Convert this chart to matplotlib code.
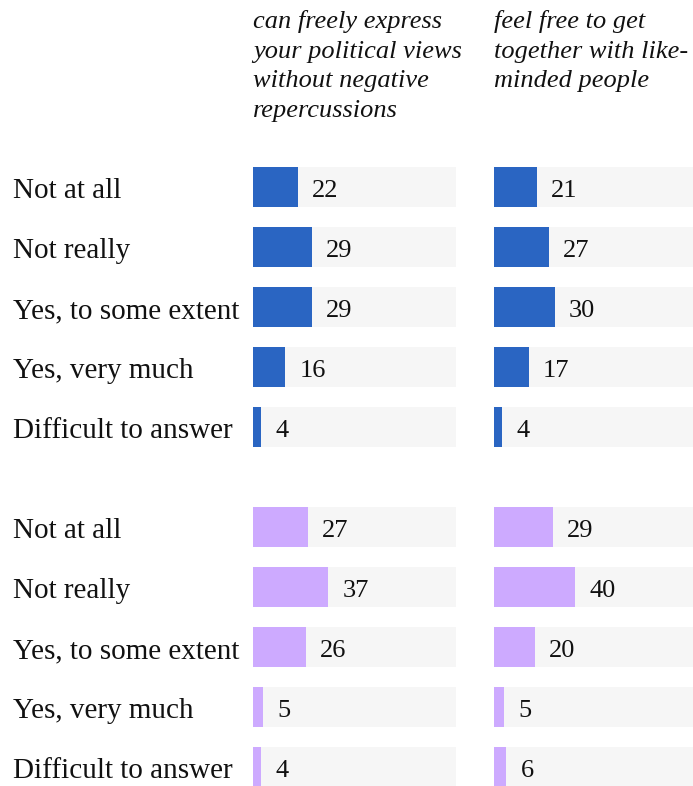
import matplotlib.pyplot as plt
from matplotlib import transforms

categories = ['Not at all', 'Not really', 'Yes, to some extent', 'Yes, very much', 'Difficult to answer']
headers = ['can freely express\nyour political views\nwithout negative\nrepercussions',
           'feel free to get\ntogether with like-\nminded people']

# two groups of respondents, one column per question
express_a = [22, 29, 29, 16, 4]
gather_a = [21, 27, 30, 17, 4]
express_b = [27, 37, 26, 5, 4]
gather_b = [29, 40, 20, 5, 6]

blue = '#2a65c2'
purple = '#cdaaff'
track = '#f6f6f6'

W, H = 693, 786
fig = plt.figure(figsize=(W / 100, H / 100), dpi=100)
plt.rcParams['font.family'] = ['Liberation Serif', 'DejaVu Serif']

# row positions: 60px per row, 100px between the two groups
rows_a = [i for i in range(5)]
rows_b = [4 + 100 / 60 + i for i in range(5)]
y0 = 187  # pixel centre of first row

def make_ax(left_px):
    ax = fig.add_axes([left_px / W, 0, 203 / W, 1])
    ax.set_xlim(0, 100)
    ax.set_ylim((H - y0) / 60, -y0 / 60)
    ax.axis('off')
    return ax

ax1 = make_ax(253)
ax2 = make_ax(494)

for ax, (va, vb) in [(ax1, (express_a, express_b)), (ax2, (gather_a, gather_b))]:
    for rows, vals, col in [(rows_a, va, blue), (rows_b, vb, purple)]:
        ax.barh(rows, [100] * len(rows), height=40 / 60, color=track, left=0)
        ax.barh(rows, vals, height=40 / 60, color=col)
        for y, v in zip(rows, vals):
            ax.text(v + 7, y + 0.02, str(v), va='center_baseline', ha='left', fontsize=19,
                    color='#111111')

# category labels on the left
tr = transforms.blended_transform_factory(fig.transFigure, ax1.transData)
for rows in (rows_a, rows_b):
    for y, c in zip(rows, categories):
        fig.text(13 / W, y + 0.02, c, transform=tr, va='center_baseline', ha='left',
                 fontsize=21, color='#111111')

for x, h in zip((253, 494), headers):
    fig.text(x / W, 1 - 10 / H, h, ha='left', va='top', fontsize=19, style='italic',
             color='#111111', linespacing=1.45)

fig.savefig('out.png', dpi=100)
